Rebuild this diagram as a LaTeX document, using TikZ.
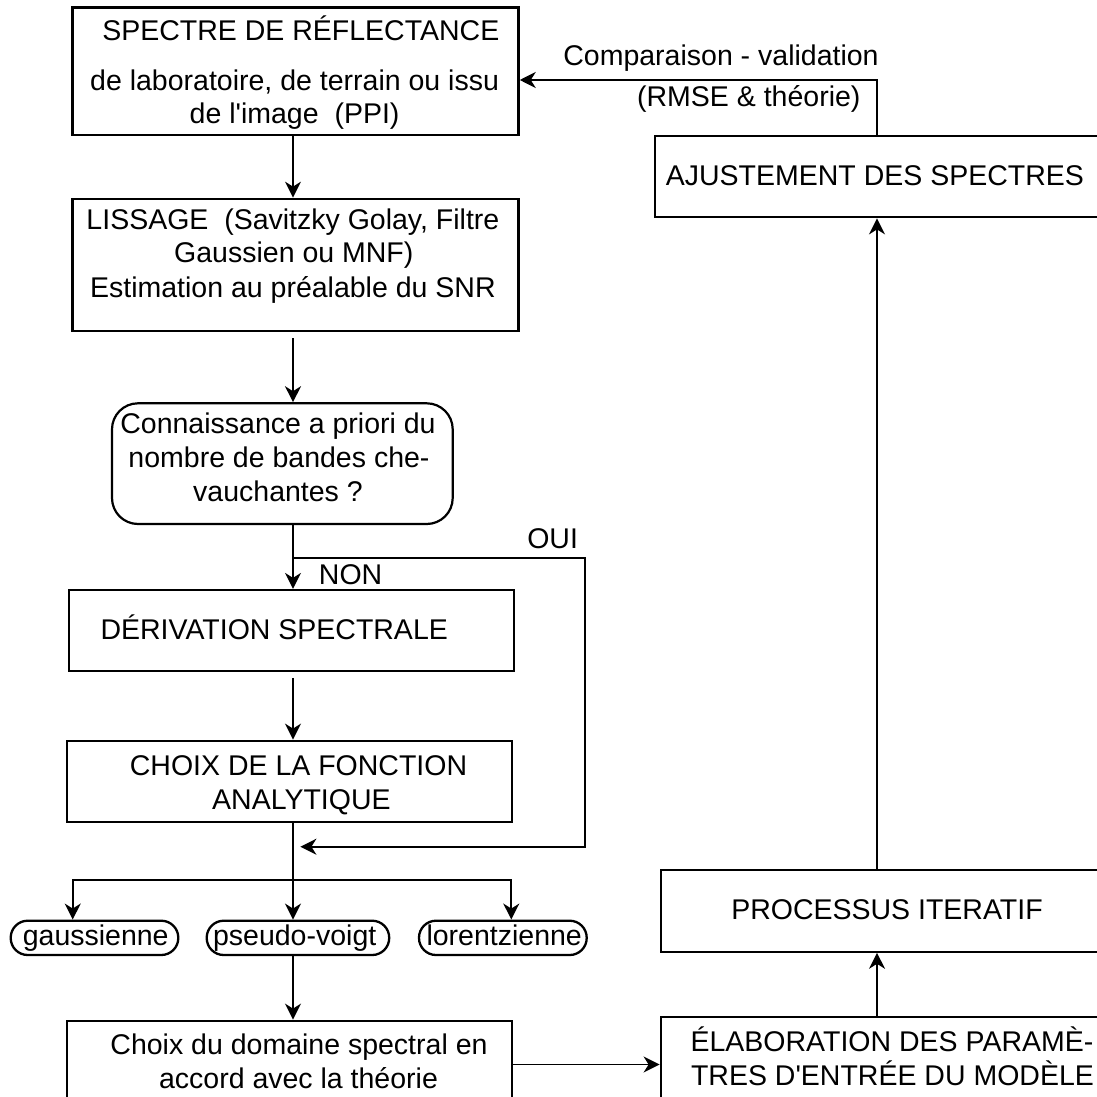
\documentclass[tikz,border=0pt]{standalone}
\usepackage{fontspec}
\setmainfont{Liberation Sans}[Ligatures=TeXOff]
\usetikzlibrary{arrows.meta,calc}
\begin{document}
\begin{tikzpicture}[x=1pt,y=-1pt,
  box/.style={draw=black, line width=2.2pt, inner sep=0pt, rectangle},
  thickbox/.style={box, line width=2.7pt},
  decbox/.style={box, rounded corners=26pt},
  oval/.style={box, line width=2.3pt, rounded corners=17pt, minimum height=34.3pt},
  txt/.style={inner sep=0pt, anchor=base, font=\fontsize{28.5}{34}\selectfont},
  conn/.style={line width=1.7pt},
  arr/.style={conn, -{Stealth[length=16pt,width=16pt,inset=5pt]}},
]
\useasboundingbox (0,0) rectangle (1097,1097);

% boxes
\node[thickbox, minimum width=445.8pt, minimum height=127.7pt] (b1) at (295.5,71.15) {};
\node[thickbox, minimum width=445.8pt, minimum height=132pt] (b2) at (295.5,265) {};
\node[decbox, minimum width=340.7pt, minimum height=120.7pt] (dec) at (282.35,463.65) {};
\node[box, minimum width=445.1pt, minimum height=81pt] (der) at (291.45,630.5) {};
\node[box, minimum width=445.1pt, minimum height=81.3pt] (cho) at (289.15,781.35) {};
\node[oval, minimum width=167.6pt] (gau) at (94.5,937.85) {};
\node[oval, minimum width=182.5pt] (psv) at (297.95,937.85) {};
\node[oval, minimum width=167.7pt] (lor) at (502.85,937.85) {};
\node[box, minimum width=444.7pt, minimum height=99.3pt] (dom) at (289.35,1070.35) {};
\node[box, minimum width=459.3pt, minimum height=102.7pt] (ela) at (890.35,1068.65) {};
\node[box, minimum width=459.3pt, minimum height=81.7pt] (pro) at (890.35,910.85) {};
\node[box, minimum width=465.4pt, minimum height=81.3pt] (aju) at (887.3,176.65) {};

% texts
\node[txt] (t1a) at (300.8,40.7) {SPECTRE DE RÉFLECTANCE};
\node[txt] (t1b) at (294.6,90.7) {de laboratoire, de terrain ou issu};
\node[txt] (t1c) at (294.6,124) {de l'image\ \ (PPI)};
\node[txt] (t2a) at (292.9,229) {LISSAGE\ \ (Savitzky Golay, Filtre};
\node[txt] (t2b) at (293.8,262.3) {Gaussien ou MNF)};
\node[txt] (t2c) at (292.9,297.7) {Estimation au préalable du SNR};
\node[txt] (t3a) at (278,433.3) {Connaissance a priori du};
\node[txt] (t3b) at (279,467.3) {nombre de bandes che-};
\node[txt] (t3c) at (278,501.7) {vauchantes ?};
\node[txt] (toui) at (552.6,548.3) {OUI};
\node[txt] (tnon) at (350.6,584) {NON};
\node[txt] (t4) at (274.2,639.3) {DÉRIVATION SPECTRALE};
\node[txt] (t5a) at (298.5,775) {CHOIX DE LA FONCTION};
\node[txt] (t5b) at (301.4,809) {ANALYTIQUE};
\node[txt] (tg) at (95.7,945) {gaussienne};
\node[txt] (tp) at (294.7,945) {pseudo-voigt};
\node[txt] (tl) at (504.2,945) {lorentzienne};
\node[txt] (t6a) at (299,1054) {Choix du domaine spectral en};
\node[txt] (t6b) at (298.5,1088) {accord avec la théorie};
\node[txt] (t7a) at (892,1051.7) {ÉLABORATION DES PARAMÈ-};
\node[txt] (t7b) at (892.5,1085.7) {TRES D'ENTRÉE DU MODÈLE};
\node[txt] (t8) at (887,919) {PROCESSUS ITERATIF};
\node[txt] (t9) at (874.9,185) {AJUSTEMENT DES SPECTRES};
\node[txt] (tc1) at (721,65.7) {Comparaison - validation};
\node[txt] (tc2) at (748.8,106.7) {(RMSE \& théorie)};

% coordinates
\coordinate (sp) at (293,0);
\coordinate (j1) at (293,557.7);
\coordinate (c1) at (584.8,557.7);
\coordinate (c2) at (584.8,846.7);
\coordinate (m1) at (300.4,846.7);
\coordinate (br) at (293,880.3);
\coordinate (bl) at (72.7,880.3);
\coordinate (brr) at (511.3,880.3);
\coordinate (hy) at (0,1064.5);
\coordinate (rx) at (877,0);
\coordinate (ay) at (0,80);

% connectors
\draw[arr] (b1.south -| sp) -- (b2.north -| sp);
\draw[arr, shorten <=6pt] (b2.south -| sp) -- (dec.north -| sp);
\draw[arr] (dec.south -| sp) -- (der.north -| sp);
\draw[arr] (j1) -- (c1) -- (c2) -- (m1);
\draw[arr, shorten <=5.7pt] (der.south -| sp) -- (cho.north -| sp);
\draw[conn] (cho.south -| sp) -- (br);
\draw[arr] (br) -| (gau.north -| bl);
\draw[arr] (br) -| (lor.north -| brr);
\draw[arr] (br) -- (psv.north -| sp);
\draw[arr] (psv.south -| sp) -- (dom.north -| sp);
\draw[arr] (dom.east |- hy) -- (ela.west |- hy);
\draw[arr] (ela.north -| rx) -- (pro.south -| rx);
\draw[arr] (pro.north -| rx) -- (aju.south -| rx);
\draw[arr] (aju.north -| rx) |- (b1.east |- ay);
\end{tikzpicture}
\end{document}
